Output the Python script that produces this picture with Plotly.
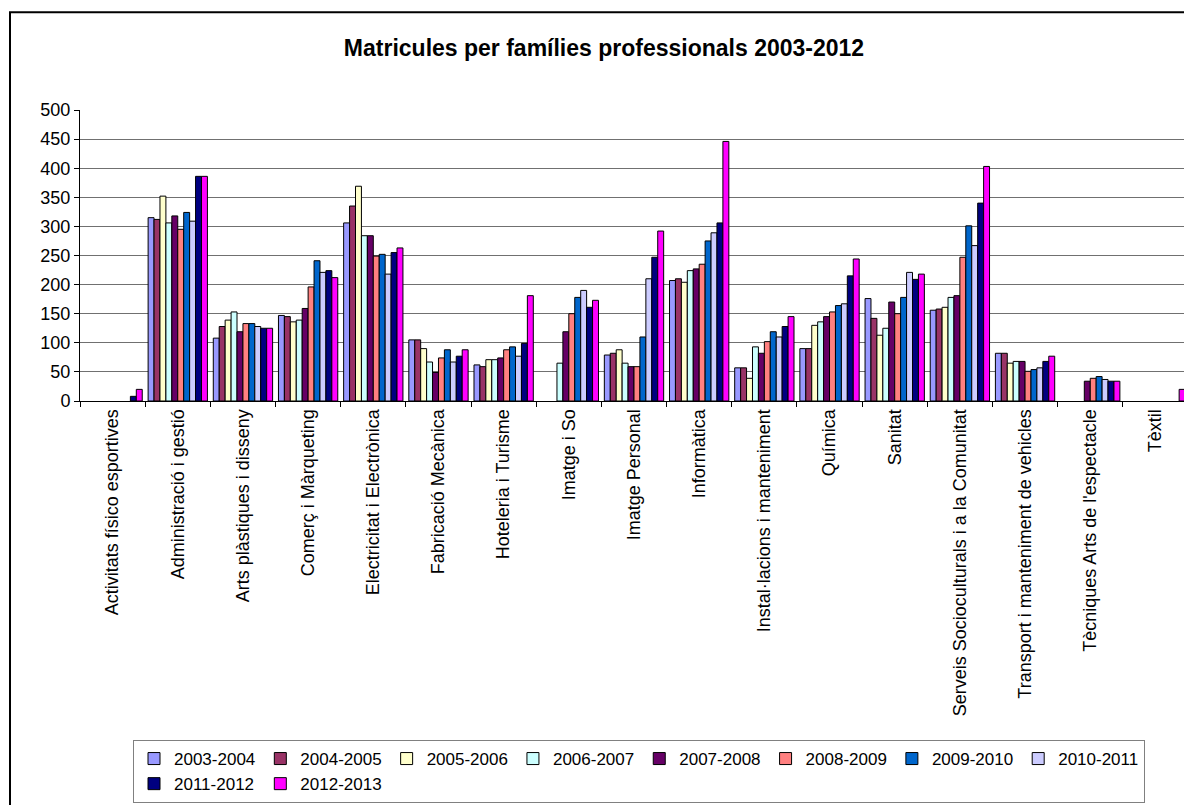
import plotly.graph_objects as go

categories = [
    "Activitats físico esportives", "Administració i gestió", "Arts plàstiques i disseny",
    "Comerç i Màrqueting", "Electricitat i Electrònica", "Fabricació Mecànica",
    "Hoteleria i Turisme", "Imatge i So", "Imatge Personal", "Informàtica",
    "Instal·lacions i manteniment", "Química", "Sanitat",
    "Serveis Socioculturals i a la Comunitat", "Transport i manteniment de vehicles",
    "Tècniques Arts de l'espectacle", "Tèxtil",
]

series_names = ["2003-2004", "2004-2005", "2005-2006", "2006-2007", "2007-2008",
                "2008-2009", "2009-2010", "2010-2011", "2011-2012", "2012-2013"]

s2003_2004 = [None, 315, 108, 147, 306, 105, 62, None, 79, 207, 57, 90, 176, 156, 82, None, None]
s2004_2005 = [None, 312, 128, 145, 335, 105, 59, None, 82, 210, 57, 90, 142, 158, 82, None, None]
s2005_2006 = [None, 352, 139, 136, 369, 90, 71, None, 88, 204, 39, 130, 113, 161, 65, None, None]
s2006_2007 = [None, 306, 153, 139, 284, 67, 71, 65, 65, 224, 93, 136, 125, 178, 68, None, None]
s2007_2008 = [None, 318, 119, 159, 284, 49, 74, 119, 59, 227, 82, 145, 170, 181, 68, 34, None]
s2008_2009 = [None, 295, 133, 196, 249, 74, 88, 150, 59, 235, 102, 153, 150, 247, 51, 39, None]
s2009_2010 = [None, 324, 133, 241, 252, 88, 93, 178, 110, 275, 119, 164, 178, 301, 54, 42, None]
s2010_2011 = [None, 309, 128, 221, 218, 67, 77, 190, 210, 289, 110, 167, 221, 267, 57, 37, None]
s2011_2012 = [8, 386, 125, 224, 255, 77, 99, 161, 247, 306, 128, 215, 209, 340, 68, 34, None]
s2012_2013 = [20, 386, 125, 212, 263, 88, 181, 173, 292, 446, 145, 244, 218, 403, 77, 34, 20]

all_series = [s2003_2004, s2004_2005, s2005_2006, s2006_2007, s2007_2008,
              s2008_2009, s2009_2010, s2010_2011, s2011_2012, s2012_2013]

colors = ["#9999FF", "#993366", "#FFFFCC", "#CCFFFF", "#660066",
          "#FF8080", "#0066CC", "#CCCCFF", "#000080", "#FF00FF"]

y_ticks = [0, 50, 100, 150, 200, 250, 300, 350, 400, 450]
y_top = 500

FONT = "Liberation Sans, Arial, sans-serif"

# page body adds an 8px offset; targets below are in screenshot pixels
OFF = 8
W, H = 1192, 805
plot_left, plot_right, plot_top, plot_bottom = 80, 1188, 110, 402
L = plot_left - OFF
R = W - (plot_right - OFF)
T = plot_top - OFF
B = H - (plot_bottom - OFF)
pw = W - L - R
ph = H - T - B


def px_x(x):
    return (x - OFF - L) / pw


def px_y(y):
    return (H - B - (y - OFF)) / ph


fig = go.Figure()
for name, vals, col in zip(series_names, all_series, colors):
    fig.add_trace(go.Bar(
        x=categories, y=vals, name=name,
        marker=dict(color=col, line=dict(color="black", width=1)),
    ))
# empty trace so that the secondary (top label) axis is drawn
fig.add_trace(go.Scatter(x=[], y=[], yaxis="y2", showlegend=False, hoverinfo="skip"))

fig.update_layout(
    width=W, height=H,
    margin=dict(l=L, r=R, t=T, b=B),
    paper_bgcolor="white", plot_bgcolor="white",
    font=dict(family=FONT, color="black"),
    barmode="group", bargap=0.09, bargroupgap=0,
    title=dict(
        text="<b>Matricules per famílies professionals 2003-2012</b>",
        x=0.5, xref="container", xanchor="center",
        y=1 - (48 - OFF) / H, yref="container", yanchor="middle",
        font=dict(family=FONT, size=23, color="black"),
    ),
    xaxis=dict(
        type="category", tickangle=-90, tickson="boundaries",
        ticks="outside", ticklen=5, tickcolor="black",
        showline=True, linecolor="black", linewidth=1,
        showgrid=False, zeroline=False,
        tickfont=dict(family=FONT, size=18, color="black"),
    ),
    yaxis=dict(
        range=[0, y_top], tickvals=y_ticks,
        ticks="outside", ticklen=5, tickcolor="black",
        showline=True, linecolor="black", linewidth=1,
        showgrid=True, gridcolor="#707070", gridwidth=1,
        zeroline=False,
        tickfont=dict(family=FONT, size=18, color="black"),
    ),
    yaxis2=dict(
        overlaying="y", anchor="x", side="left",
        range=[0, y_top], tickvals=[y_top],
        ticks="outside", ticklen=5, tickcolor="black",
        showline=False, showgrid=True, gridcolor="#DDDDDD", gridwidth=1,
        zeroline=False,
        tickfont=dict(family=FONT, size=18, color="black"),
    ),
    legend=dict(
        orientation="h",
        x=px_x(133), xanchor="left",
        y=px_y(740), yanchor="top",
        bgcolor="white", bordercolor="#808080", borderwidth=1,
        font=dict(family=FONT, size=17, color="black"),
        traceorder="normal",
    ),
    shapes=[dict(
        type="rect", xref="paper", yref="paper",
        x0=px_x(10), x1=px_x(1215), y0=px_y(830), y1=px_y(12),
        line=dict(color="black", width=2), fillcolor="rgba(0,0,0,0)",
        layer="below",
    )],
    showlegend=True,
)

fig.write_html("out.html")
